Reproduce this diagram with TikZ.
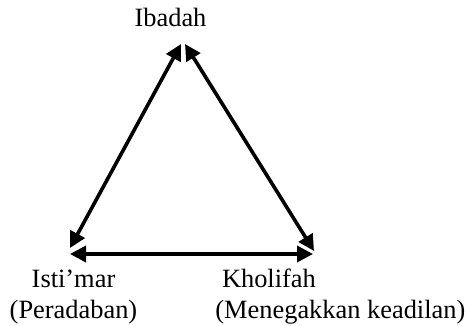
\documentclass[tikz,border=0pt]{standalone}
\usepackage{fontspec}
\setmainfont{Liberation Serif}
\usetikzlibrary{arrows.meta}

\begin{document}
\begin{tikzpicture}[
    x=0.5pt, y=-0.5pt,
    label/.style={font=\fontsize{13.2}{15.5}\selectfont, inner sep=0pt},
    line/.style={{Triangle[length=8pt,width=8pt]}-{Triangle[length=8pt,width=8pt]}, line width=1.8pt}
]
\useasboundingbox (0,0) rectangle (466,326);
\node[label, anchor=base] (ibadah) at (170.5,27) {Ibadah};
\node[label, align=center, anchor=base] (istimar) at (73.5,318) {Isti'mar\\(Peradaban)};
\node[label, align=left, anchor=base west] (kholifah) at (215,318) {\hspace{0.25em}Kholifah\\(Menegakkan keadilan)};

% corners of the triangle
\coordinate (topl) at (181,44);
\coordinate (topr) at (185,44);
\coordinate (leftd) at (70,248);
\coordinate (lefth) at (70,254);
\coordinate (rightd) at (314,251);
\coordinate (righth) at (313,254);

\draw[line] (leftd) -- (topl);
\draw[line] (topr) -- (rightd);
\draw[line] (lefth) -- (righth);
\end{tikzpicture}
\end{document}
